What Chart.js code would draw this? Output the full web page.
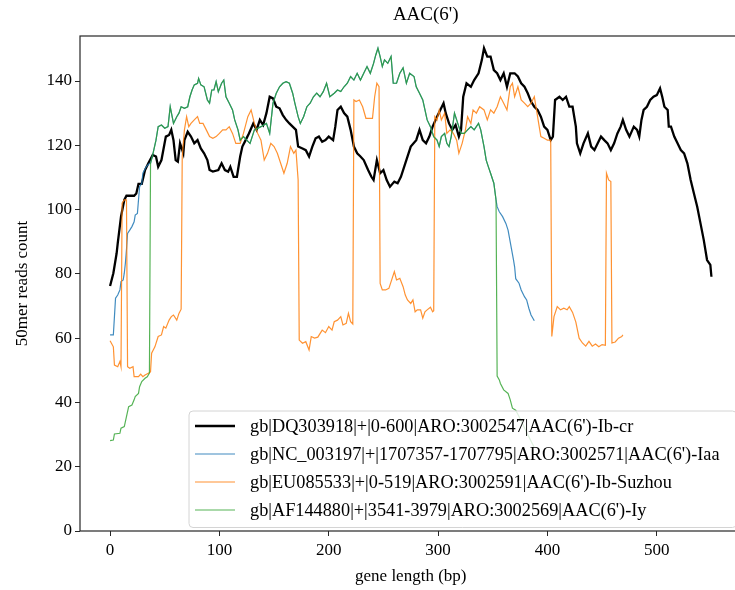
<!DOCTYPE html>
<html>
<head>
<meta charset="utf-8">
<script src="https://cdn.jsdelivr.net/npm/chart.js@4.4.1/dist/chart.umd.min.js"></script>
<style>
html, body { margin: 0; padding: 0; background: #fff; overflow: hidden; }
#wrap { width: 770px; height: 590px; }
</style>
</head>
<body>
<div id="wrap"><canvas id="myChart" width="770" height="590"></canvas></div>
<script>
// [position (bp), reads]
const dqData = [[0,76.2],[3,80.2],[6,86.4],[7,89.5],[10,97.8],[13,103],[15,104.3],[18,104.3],[22,104.3],[24,105],[26,108],[29,108],[32,112.3],[35,114.4],[39,117],[42,116.5],[44,113.3],[47,115.4],[51,122.7],[54,123.2],[56,124.8],[58,121.6],[60,115.4],[62,114.9],[64,120.6],[67,117.5],[68,121.6],[71,124.2],[74,122.7],[77,120.6],[80,121.6],[83,119],[86,117.5],[89,115.4],[91,112.3],[94,111.8],[99,112.3],[102,114.4],[105,112.3],[108,111.8],[110,113.3],[113,110.2],[116,110.2],[119,116.5],[121,119.6],[124,121.6],[127,123.7],[131,126.8],[134,124.8],[137,127.9],[140,126.3],[143,130],[146,135.1],[149,134.6],[152,132],[155,131.5],[158,129.4],[161,127.9],[164,126.8],[167,125.8],[170,124.8],[172,119.6],[176,119],[179,118.5],[182,116.5],[185,119.6],[188,122.2],[191,122.7],[194,121.1],[197,121.6],[200,122.7],[204,121.6],[206,125.8],[208,131],[211,132],[214,130],[217,128.9],[220,124.8],[223,119.6],[226,117.5],[229,116.5],[232,115.4],[236,112.3],[239,110.2],[241,109.2],[244,115.4],[247,111.3],[250,112.3],[253,109.2],[256,107.1],[260,108.7],[263,108.2],[266,110.2],[270,114.4],[275,119.6],[280,121.6],[283,124.8],[286,121.6],[289,120.6],[292,122.7],[295,125.8],[299,128.9],[302,131],[305,133.1],[307,130],[310,126.8],[313,124.8],[316,126.3],[319,122.7],[321,124.8],[323,135.1],[326,139.3],[330,138.2],[333,140.3],[337,142.4],[340,146.5],[342,150.2],[345,147.6],[348,147.6],[351,143.4],[354,142.4],[357,140.3],[360,142.4],[363,138.2],[366,142.4],[370,142.4],[373,141.4],[376,139.3],[379,138.2],[382,136.2],[385,133.6],[388,132],[391,131],[394,128.9],[397,125.8],[400,124.8],[403,121.6],[405,122.7],[407,134.1],[411,135.1],[414,134.1],[417,135.1],[420,132],[423,132],[426,125.8],[427,120.6],[430,117.5],[433,120.6],[437,123.7],[440,119.6],[443,118.5],[446,120.6],[449,122.7],[452,121.6],[455,120.6],[458,118.5],[461,120.6],[464,123.7],[467,125.8],[469,127.9],[472,124.8],[475,122.7],[479,125.8],[482,124.8],[484,122.7],[486,127.9],[488,131],[491,132],[494,134.1],[497,135.1],[500,135.6],[503,137.7],[505,135.1],[507,132],[510,131],[511,125.8],[513,125.8],[516,122.7],[519,120.6],[522,118.5],[525,117.5],[528,114.4],[531,109.2],[534,105],[537,100.9],[540,95.7],[543,90.5],[546,84.3],[549,82.8],[550,79.1]];

const euData = [[0,59.2],[3,57.3],[4,51.6],[7,51.1],[9,52.7],[10,51.1],[11,102],[13,103],[15,103],[16,51.1],[18,50.6],[21,51.1],[22,48],[26,48],[28,48.8],[30,48],[32,48.5],[35,49.1],[37,49.5],[38,55.3],[41,57.3],[44,60.5],[47,61],[49,63.6],[51,63.1],[54,65.6],[56,66.7],[58,67.2],[61,65.6],[63,67.7],[65,69],[66,116.5],[68,124.8],[70,128.9],[72,125.8],[74,126.8],[77,127.9],[80,128.9],[82,126.8],[85,126.8],[88,124.8],[91,122.7],[94,122.2],[97,122.7],[100,123.7],[103,124.8],[106,124.8],[109,125.8],[112,123.7],[115,120.6],[119,120.6],[122,123.7],[126,128.9],[129,131],[132,126.8],[135,123.7],[138,121.6],[141,115.4],[144,117.5],[147,120.6],[150,119.6],[153,117.5],[156,114.4],[159,111.3],[162,114.4],[165,119.6],[168,117.5],[170,118.5],[172,109.2],[173,59.4],[176,58.4],[179,58.9],[182,56.3],[184,60.5],[187,60],[190,60.3],[194,62.5],[197,61.7],[200,63.6],[203,62.5],[205,65.1],[208,65.6],[211,66.7],[213,64.1],[216,64.6],[218,67.7],[220,65.1],[222,64.4],[223,134.1],[225,133.6],[228,134.1],[231,132],[234,128.4],[237,128.4],[240,128.4],[242,135.1],[244,139.3],[246,138.2],[247,77],[249,75],[252,75],[255,75.5],[258,78.6],[260,80.7],[262,78.1],[265,78.6],[268,76],[270,73.4],[272,71.9],[275,70.8],[277,71.9],[279,68.2],[281,68.8],[284,68.8],[286,66.2],[288,68.2],[290,68.8],[293,69.6],[295,68.2],[296,68.5],[297,128.9],[299,127.9],[301,131],[303,127.9],[306,130],[308,123.7],[311,124.8],[314,123.7],[317,121.6],[319,117.5],[322,120.6],[325,124.8],[327,128.9],[330,126.8],[332,131],[335,130],[338,132],[342,131],[345,127.9],[348,131],[351,130],[354,132],[357,135.1],[360,133.1],[363,131],[366,138.2],[368,139.3],[370,135.1],[373,138.2],[376,134.1],[379,133.1],[382,132],[385,133.1],[388,135.1],[390,131],[392,126.8],[394,122.7],[397,122.2],[400,121.6],[403,121.6],[404,60.5],[406,66.7],[409,69.8],[412,68.8],[415,69.3],[418,68.8],[420,69.8],[423,68],[426,65],[429,60],[432,58.5],[435,57.5],[438,59],[441,57.5],[444,58.2],[447,57.3],[450,58],[453,57.8],[454,111.3],[456,109.2],[458,108.7],[459,58.5],[462,58.8],[465,60],[468,60.5],[469,61]];

const afData = [[0,28.1],[3,28.3],[4,30.2],[9,30.4],[10,32],[13,32.5],[15,35.6],[17,38.7],[20,39.2],[22,40.8],[23,41.8],[26,42.8],[27,44.9],[29,46.5],[32,47.5],[34,48],[36,49.1],[37,114.4],[39,117],[42,121.6],[44,125.8],[47,126.3],[50,125.3],[53,125.8],[55,132],[58,126.8],[61,128.9],[63,130],[65,132],[68,131.5],[71,132],[73,135.1],[75,137.2],[77,138.8],[80,139.3],[81,140.8],[83,138.8],[86,138.2],[89,134.1],[91,133.1],[93,137.2],[95,137.2],[97,139.8],[99,136.7],[102,139.3],[104,140.3],[106,135.1],[109,133.1],[112,131],[114,127.9],[117,124.8],[119,121.6],[122,122.7],[125,121.6],[128,120.6],[132,124.8],[138,125.8],[143,126.8],[146,123.7],[149,133.1],[152,136.2],[155,138.2],[158,139.3],[161,139.8],[164,139.3],[167,136.2],[169,133.1],[172,128.9],[174,126.8],[177,128.9],[180,132],[183,133.1],[186,135.1],[189,136.2],[192,135.1],[195,136.7],[198,139.3],[201,135.1],[205,136.2],[208,137.2],[211,136.7],[214,138.2],[217,139.3],[220,141.4],[223,140.3],[226,142.4],[229,140.3],[232,142.4],[235,144.5],[238,142.4],[241,145.5],[243,148.1],[245,150.2],[247,147.6],[249,144.5],[251,146.6],[254,145.5],[257,147.6],[259,139.3],[262,139.3],[265,142.4],[268,144.1],[271,139.3],[274,142.4],[278,141.4],[280,138.2],[283,136.2],[286,134.1],[288,131],[290,127.9],[293,125.8],[296,122.7],[299,121.6],[301,119.6],[303,122.7],[306,123.7],[308,120.6],[310,119.6],[312,122.7],[315,130],[318,126.8],[321,123.7],[324,123.7],[327,124.8],[330,125.8],[333,124.8],[337,126.8],[339,124.8],[342,119.6],[344,115.4],[346,113.3],[348,111.3],[351,108.2],[353,103],[354,48.2],[356,47],[357,45.9],[360,43.9],[364,42.8],[366,40.8],[368,38.2],[371,37.6],[374,35.6],[377,33.5],[380,31.4],[383,29.3],[386,27.3],[388,26]];

// NC_003197: visible start and tail; between 37 and 353 it runs under the green line
const ncStart = [[0,61],[3,61],[4,66.7],[5,72.4],[7,73.4],[9,75],[10,77.6],[12,78.1],[13,80.2],[14,83.3],[15,87.5],[16,92.6],[18,93.6],[20,94.7],[22,96.2],[23,98.3],[25,98.8],[26,103],[27,107.1],[29,108.2],[30,111.3],[33,113.3],[36,114.4]];
const ncEnd = [[354,100.9],[356,99.3],[359,97.8],[362,95.7],[364,93.6],[367,88],[369,84.3],[370,82.2],[371,78.5],[374,77.1],[376,75],[379,72.9],[381,71.9],[383,69.3],[385,67.2],[388,65.4]];

const chartTitle = "AAC(6')";
const seriesNames = [
  "gb|DQ303918|+|0-600|ARO:3002547|AAC(6')-Ib-cr",
  "gb|NC_003197|+|1707357-1707795|ARO:3002571|AAC(6')-Iaa",
  "gb|EU085533|+|0-519|ARO:3002591|AAC(6')-Ib-Suzhou",
  "gb|AF144880|+|3541-3979|ARO:3002569|AAC(6')-Iy"
];
const seriesColors = ['#000000', 'rgba(31,119,180,0.85)', 'rgba(255,127,14,0.85)', 'rgba(44,160,44,0.8)'];
const xTicks = [0, 100, 200, 300, 400, 500];
const yTicks = [0, 20, 40, 60, 80, 100, 120, 140];

const ncMid = afData.filter(p => p[0] >= 37 && p[0] <= 353);
const ncData = ncStart.concat(ncMid, ncEnd);

const toPts = arr => arr.map(p => ({x: p[0], y: p[1]}));

Chart.defaults.font.family = "'Liberation Serif', 'DejaVu Serif', serif";
Chart.defaults.color = '#000';

// frame on all four sides plus the title (sits a bit right of the axes centre in the original)
const frame = {
  id: 'frame',
  afterDraw(chart) {
    const {ctx, chartArea: a} = chart;
    ctx.save();
    ctx.strokeStyle = '#262626';
    ctx.lineWidth = 1.2;
    ctx.strokeRect(a.left, a.top, a.right - a.left, a.bottom - a.top);
    ctx.font = "19px 'Liberation Serif'";
    ctx.fillStyle = '#000';
    ctx.textAlign = 'center';
    ctx.textBaseline = 'middle';
    ctx.fillText(chartTitle, (a.left + a.right) / 2 + 15, a.top - 21);
    ctx.restore();
  }
};

const legendBox = {
  id: 'legendBox',
  afterDatasetsDraw(chart) {
    const {ctx, chartArea: a} = chart;
    const left = a.left + 109, top = a.bottom - 120;
    const right = a.right - 5, bottom = a.bottom - 3.5;
    ctx.save();
    ctx.beginPath();
    ctx.roundRect(left, top, right - left, bottom - top, 4);
    ctx.fillStyle = 'rgba(255,255,255,0.8)';
    ctx.fill();
    ctx.strokeStyle = '#d4d4d4';
    ctx.lineWidth = 1;
    ctx.stroke();
    ctx.font = "18.3px 'Liberation Serif'";
    ctx.textBaseline = 'middle';
    ctx.textAlign = 'left';
    seriesNames.forEach((name, i) => {
      const y = top + 15 + i * 28;
      ctx.beginPath();
      ctx.strokeStyle = seriesColors[i];
      ctx.lineWidth = i === 0 ? 2.3 : 1.2;
      ctx.moveTo(left + 6, y);
      ctx.lineTo(left + 46, y);
      ctx.stroke();
      ctx.fillStyle = '#000';
      ctx.fillText(name, left + 61, y + 1);
    });
    ctx.restore();
  }
};

const ctx = document.getElementById('myChart');
new Chart(ctx, {
  type: 'line',
  data: {
    datasets: [
      {label: seriesNames[0], data: toPts(dqData), borderColor: seriesColors[0], borderWidth: 2.3, order: 4},
      {label: seriesNames[1], data: toPts(ncData), borderColor: seriesColors[1], borderWidth: 1.2, order: 3},
      {label: seriesNames[2], data: toPts(euData), borderColor: seriesColors[2], borderWidth: 1.2, order: 2},
      {label: seriesNames[3], data: toPts(afData), borderColor: seriesColors[3], borderWidth: 1.2, order: 1}
    ]
  },
  options: {
    responsive: false,
    animation: false,
    devicePixelRatio: 1,
    elements: {point: {radius: 0}, line: {tension: 0, fill: false}},
    layout: {padding: {left: 0, right: 28.5, top: 36, bottom: 0}},
    plugins: {
      legend: {display: false},
      tooltip: {enabled: false},
      title: {display: false}
    },
    scales: {
      x: {
        type: 'linear',
        min: -27.5,
        max: 577.5,
        afterBuildTicks: s => { s.ticks = xTicks.map(v => ({value: v})); },
        afterFit: s => { s.height = 59; },
        grid: {drawOnChartArea: false, drawTicks: true, tickLength: 5, color: '#262626'},
        border: {display: false},
        ticks: {font: {size: 17}, padding: 4, maxRotation: 0, color: '#000'},
        title: {display: true, text: 'gene length (bp)', font: {size: 17}, padding: {top: 0, bottom: 3}}
      },
      y: {
        min: 0,
        max: 154,
        afterBuildTicks: s => { s.ticks = yTicks.map(v => ({value: v})); },
        afterFit: s => { s.width = 80; },
        grid: {drawOnChartArea: false, drawTicks: true, tickLength: 5, color: '#262626'},
        border: {display: false},
        ticks: {font: {size: 17}, padding: 3, color: '#000'},
        title: {display: true, text: '50mer reads count', font: {size: 17}, padding: {top: 12, bottom: 0}}
      }
    }
  },
  plugins: [legendBox, frame]
});
</script>
</body>
</html>
